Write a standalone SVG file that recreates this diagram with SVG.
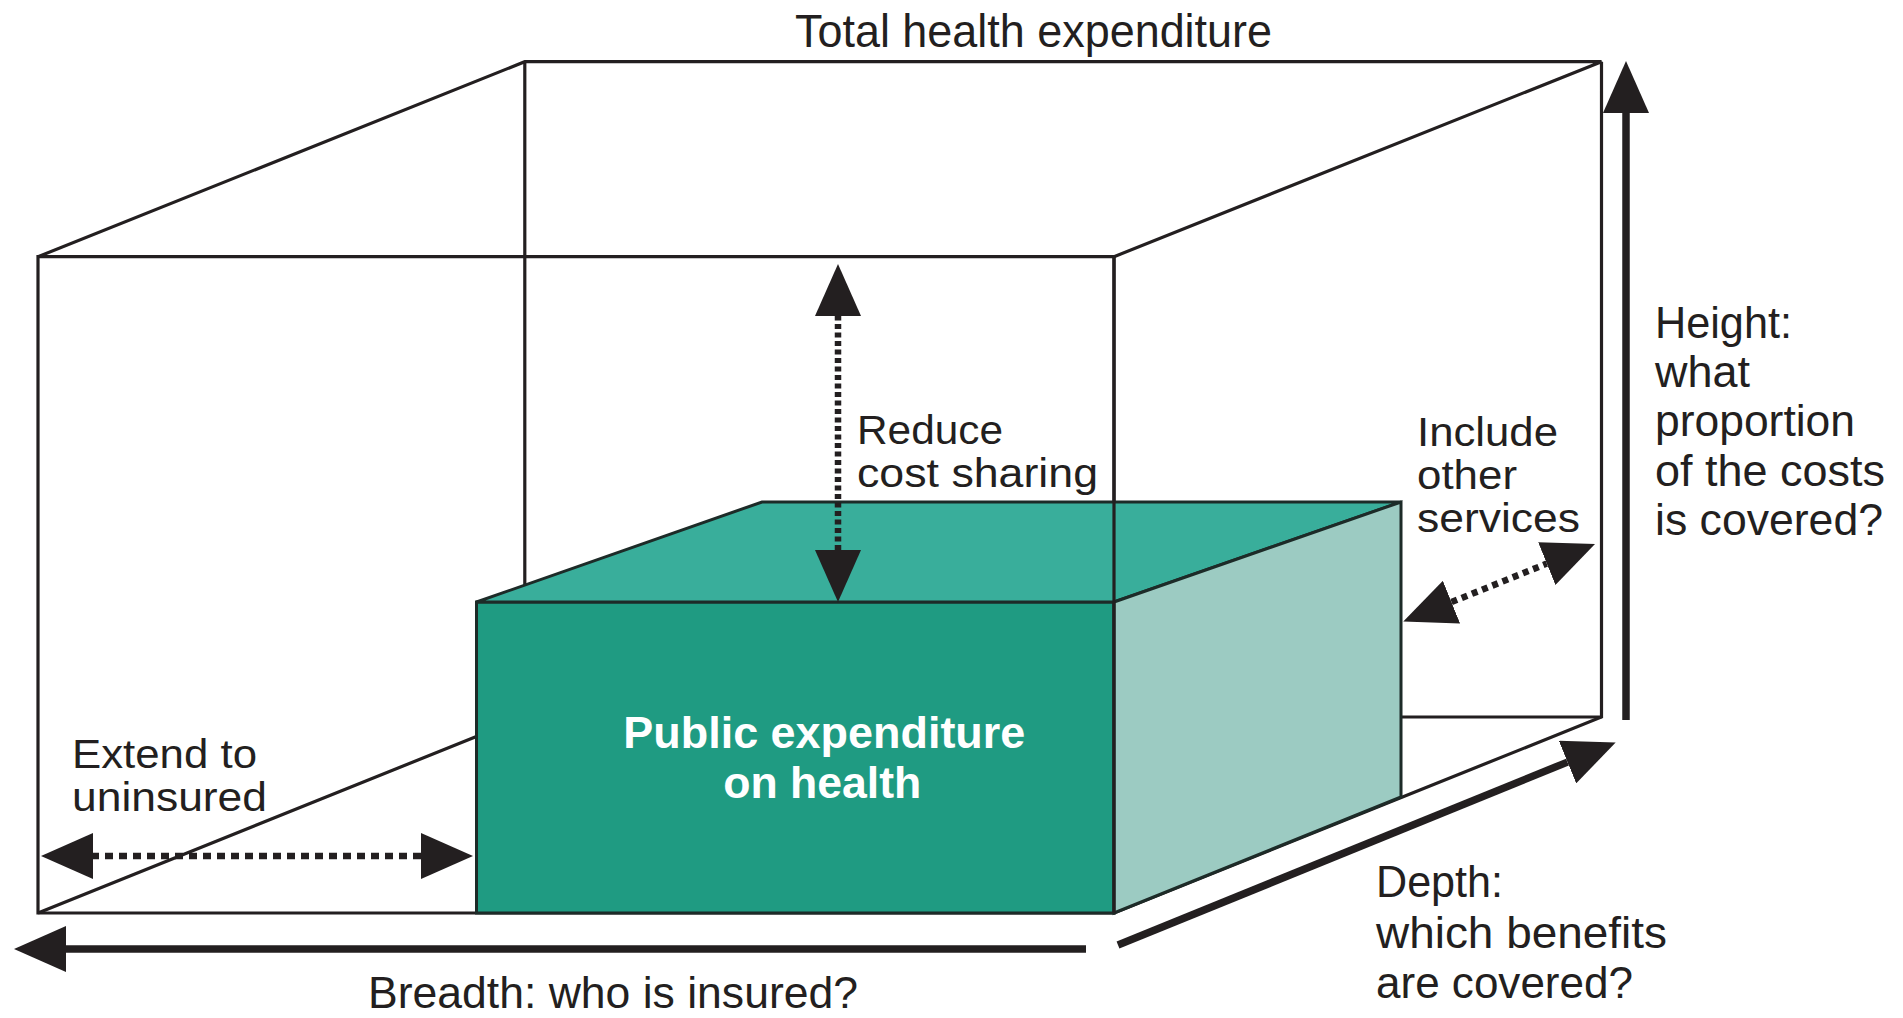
<svg xmlns="http://www.w3.org/2000/svg" width="1903" height="1018" viewBox="0 0 1903 1018">
<defs>
<style>
.edge{fill:none;stroke:#231f20;stroke-width:3.2;stroke-linejoin:miter}
.face{stroke:#1d2b28;stroke-width:3;stroke-linejoin:miter}
.front{fill:#1f9b82}
.top{fill:#39ae9b}
.side{fill:#9ccbc2}
.lbl{font-family:"Liberation Sans",Arial,sans-serif;font-size:45px;fill:#231f20}
.sm{font-size:40px}
.ttl{font-size:47px}
.pub{font-weight:bold;fill:#ffffff}
.solid{fill:none;stroke:#231f20;stroke-width:7.5}
.dot{fill:none;stroke:#231f20;stroke-width:6.5}
</style>
<marker id="ah" markerUnits="userSpaceOnUse" markerWidth="52" markerHeight="46" viewBox="0 0 52 46" refX="0" refY="23" orient="auto-start-reverse">
<path d="M0,0 L52,23 L0,46 Z" fill="#231f20"/>
</marker>
</defs>
<rect width="1903" height="1018" fill="#ffffff"/>

<g id="total-box" class="edge">
<path d="M524.8,61.7 V717 H1601.5 M38,913 L524.8,717"/>
<path d="M38,256.7 L524.8,61.7 H1601.5 L1114,256.7 M1601.5,61.7 V717 L1114,913"/>
<path d="M38,256.7 H1114 V913 H38 Z"/>
</g>

<g id="public-box">
<polygon class="face front" points="476.5,602 1114,602 1114,913 476.5,913"/>
<polygon class="face top" points="476.5,602 762,502 1401,502 1114,602"/>
<polygon class="face side" points="1114,602 1401,502 1401,797 1114,913"/>
<text class="lbl pub"><tspan x="623.3" y="748" textLength="402" lengthAdjust="spacingAndGlyphs">Public expenditure</tspan><tspan x="723.3" y="798" textLength="198" lengthAdjust="spacingAndGlyphs">on health</tspan></text>
</g>

<g id="total-box-front-edge" class="edge">
<path d="M1114,256.7 V913"/>
</g>

<g id="title">
<text class="lbl ttl" x="795" y="47" textLength="477" lengthAdjust="spacingAndGlyphs">Total health expenditure</text>
</g>

<g id="reduce-label">
<text class="lbl sm"><tspan x="857" y="443.5" textLength="146" lengthAdjust="spacingAndGlyphs">Reduce</tspan><tspan x="857" y="486.5" textLength="241" lengthAdjust="spacingAndGlyphs">cost sharing</tspan></text>
</g>

<g id="include-label">
<text class="lbl sm"><tspan x="1417" y="446" textLength="141" lengthAdjust="spacingAndGlyphs">Include</tspan><tspan x="1417" y="489" textLength="100" lengthAdjust="spacingAndGlyphs">other</tspan><tspan x="1417" y="532" textLength="163" lengthAdjust="spacingAndGlyphs">services</tspan></text>
</g>

<g id="height-label">
<text class="lbl"><tspan x="1655" y="338" textLength="137" lengthAdjust="spacingAndGlyphs">Height:</tspan><tspan x="1655" y="387" textLength="95" lengthAdjust="spacingAndGlyphs">what</tspan><tspan x="1655" y="436" textLength="200" lengthAdjust="spacingAndGlyphs">proportion</tspan><tspan x="1655" y="486" textLength="230" lengthAdjust="spacingAndGlyphs">of the costs</tspan><tspan x="1655" y="535" textLength="228" lengthAdjust="spacingAndGlyphs">is covered?</tspan></text>
</g>

<g id="extend-label">
<text class="lbl sm"><tspan x="72" y="767.5" textLength="185" lengthAdjust="spacingAndGlyphs">Extend to</tspan><tspan x="72" y="810.5" textLength="195" lengthAdjust="spacingAndGlyphs">uninsured</tspan></text>
</g>

<g id="breadth-label">
<text class="lbl" x="368" y="1008" textLength="490" lengthAdjust="spacingAndGlyphs">Breadth: who is insured?</text>
</g>

<g id="depth-label">
<text class="lbl"><tspan x="1376" y="897" textLength="127" lengthAdjust="spacingAndGlyphs">Depth:</tspan><tspan x="1376" y="948" textLength="291" lengthAdjust="spacingAndGlyphs">which benefits</tspan><tspan x="1376" y="998" textLength="257" lengthAdjust="spacingAndGlyphs">are covered?</tspan></text>
</g>

<g id="connectors">
<path class="solid" d="M1626,720 V113" marker-end="url(#ah)"/>
<path class="solid" d="M1118,945 L1567.5,762.1" marker-end="url(#ah)"/>
<path class="solid" d="M1086,949 H66" marker-end="url(#ah)"/>
<path class="dot" d="M838,550 V316" stroke-dasharray="5 3.5" marker-start="url(#ah)" marker-end="url(#ah)"/>
<path class="dot" d="M421,856 H93" stroke-dasharray="8 6" marker-start="url(#ah)" marker-end="url(#ah)"/>
<path class="dot" d="M1451.5,602.1 L1546.8,563.6" stroke-dasharray="6 5" marker-start="url(#ah)" marker-end="url(#ah)"/>
</g>
</svg>
